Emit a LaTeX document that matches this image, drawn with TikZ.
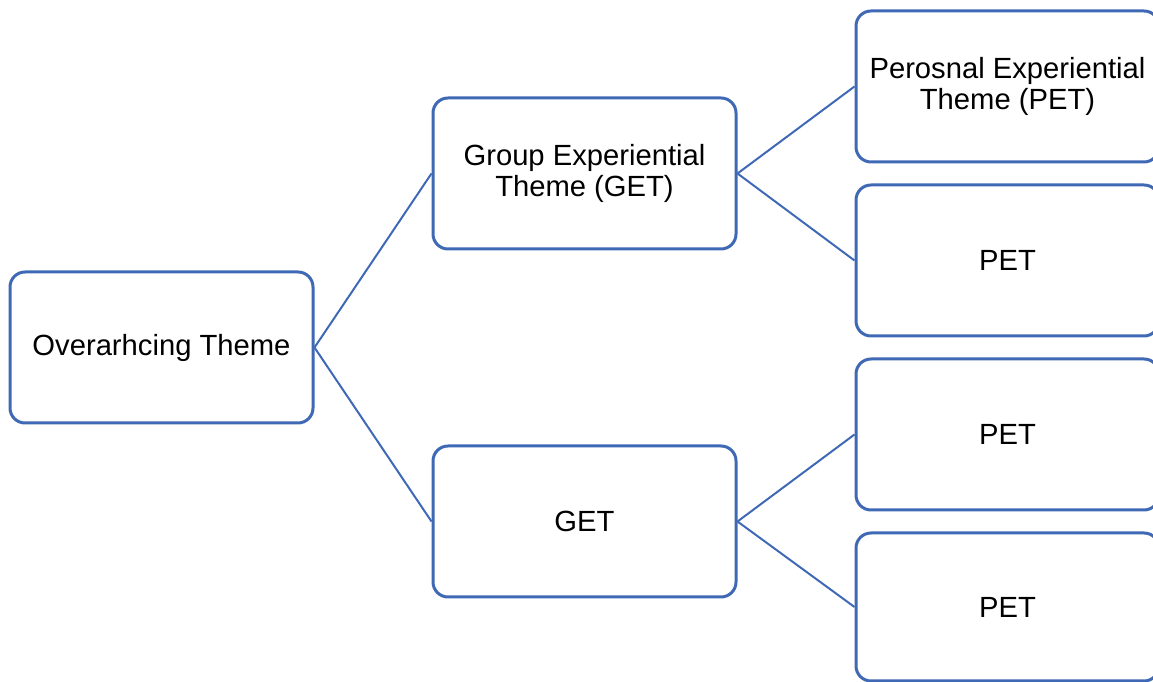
\documentclass[tikz,border=0pt]{standalone}
\usepackage{fontspec}
\setmainfont{Liberation Sans}
\definecolor{boxblue}{HTML}{3F69B5}
\begin{document}
\begin{tikzpicture}[x=1pt,y=1pt,
  themebox/.style={draw=boxblue, line width=3pt, rounded corners=15pt, fill=white,
    minimum width=303pt, minimum height=151pt, inner sep=0pt, align=center,
    font=\fontsize{29.2}{31}\selectfont},
  link/.style={draw=boxblue, line width=2pt}]
\useasboundingbox (0,0) rectangle (1153,682);
\clip (0,0) rectangle (1153,682);
% root, second level and leaf themes (y measured upward from the bottom)
\node[themebox] (over) at (161.5,334.5) {Overarhcing Theme};
\node[themebox] (get1) at (584.5,508.5) {Group Experiential\\Theme (GET)};
\node[themebox] (get2) at (584.5,160.5) {GET};
\node[themebox] (pet1) at (1007.5,595.5) {Perosnal Experiential\\Theme (PET)};
\node[themebox] (pet2) at (1007.5,421.5) {PET};
\node[themebox] (pet3) at (1007.5,247.5) {PET};
\node[themebox, minimum height=148pt] (pet4) at (1007.5,75) {PET};
% connectors
\draw[link] (over.east) -- (get1.west);
\draw[link] (over.east) -- (get2.west);
\draw[link] (get1.east) -- (pet1.west);
\draw[link] (get1.east) -- (pet2.west);
\draw[link] (get2.east) -- (pet3.west);
\draw[link] (get2.east) -- (pet4.west);
\end{tikzpicture}
\end{document}
